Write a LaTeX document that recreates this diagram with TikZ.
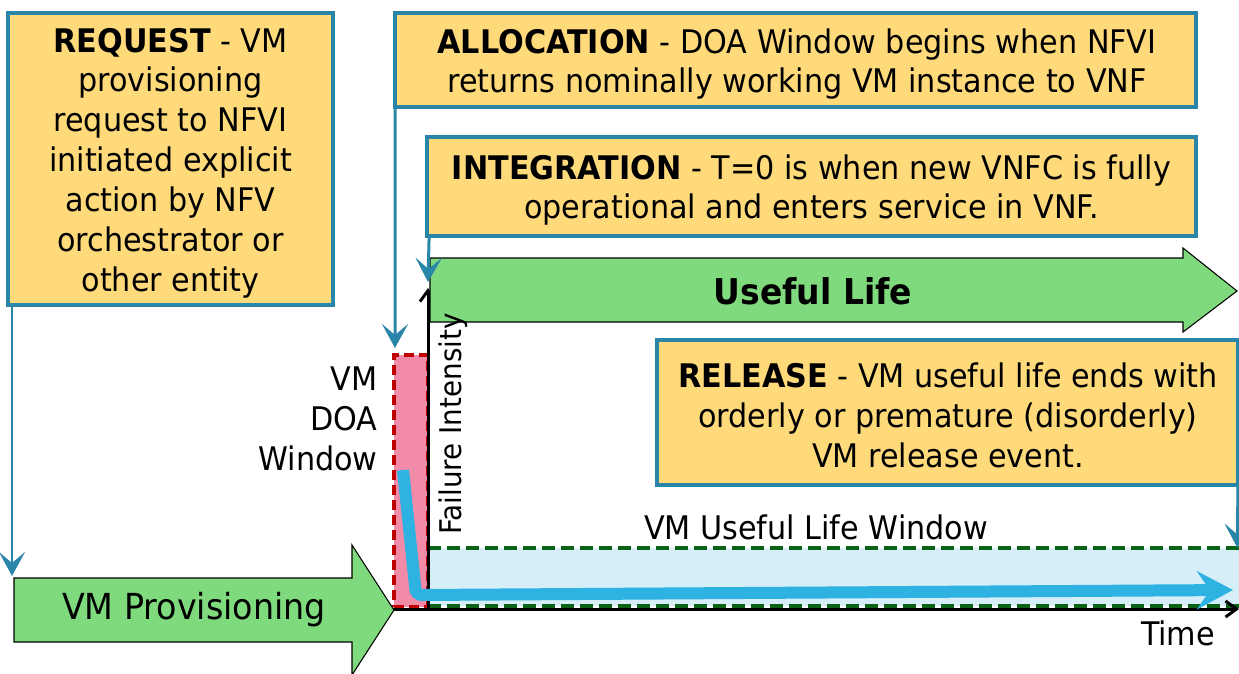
\documentclass[tikz,border=0pt]{standalone}
\usepackage{fontspec}
\setmainfont{DejaVu Sans}[FakeStretch=0.93]
\usetikzlibrary{arrows.meta,positioning}

\definecolor{boxfill}{HTML}{FFDA7B}
\definecolor{boxline}{HTML}{2A86A8}
\definecolor{arrowgreen}{HTML}{7FDA7E}
\definecolor{doapink}{HTML}{F28BA8}
\definecolor{doared}{HTML}{C00000}
\definecolor{lifeblue}{HTML}{D6EEF8}
\definecolor{lifegreen}{HTML}{0B6115}
\definecolor{curveblue}{HTML}{2DB2E2}

\newcommand{\lblfont}{\fontsize{18.5}{22.7}\selectfont}

\tikzset{
  phase/.style={draw=boxline, fill=boxfill, line width=0.08cm, inner sep=0pt},
  phasetext/.style={align=center, inner sep=0pt, font=\lblfont},
  conn/.style={draw=boxline, line width=0.06cm, -{Stealth[length=0.48cm,width=0.52cm,inset=0.22cm]}},
  blockarrow/.style={draw=black, fill=arrowgreen, line width=0.6pt},
  axis/.style={draw=black, line width=0.06cm, -{Straight Barb[length=0.22cm,width=0.32cm]}},
  plain/.style={font=\lblfont, inner sep=0pt},
}

\begin{document}
\begin{tikzpicture}[x=0.02cm, y=-0.02cm]
    \useasboundingbox (0,0) rectangle (1239,673);

    % DOA window and useful life window
    \node[fill=doapink, draw=doared, line width=0.08cm, dash pattern=on 0.2cm off 0.1cm,
          minimum width=0.68cm, minimum height=5.04cm, inner sep=0pt] (doa) at (411,481) {};
    \node[fill=lifeblue, minimum width=16.22cm, minimum height=1.16cm, inner sep=0pt] (win) at (833.5,577) {};
    \draw[lifegreen, line width=0.08cm, dash pattern=on 0.26cm off 0.12cm] (win.north west) -- (win.north east);
    \draw[lifegreen, line width=0.08cm, dash pattern=on 0.26cm off 0.12cm] (win.south west) -- (win.south east);

    % Axes
    \coordinate (origin) at (428,609);
    \coordinate (ytop) at (428,288);
    \coordinate (xend) at (1239,609);
    \draw[axis] (origin) -- (ytop);
    \draw[axis] (doa.south west |- origin) -- (xend);
    \node[plain, anchor=south] (tm) at (1178,646) {Time};

    % Failure intensity curve
    \draw[curveblue, line width=0.24cm, rounded corners=0.12cm,
          -{Stealth[length=0.72cm,width=0.76cm,inset=0.26cm]}]
        (403,470) -- (416,595) -- (1233,590);

    % Block arrows
    \draw[blockarrow] (430,258) -- (1183,258) -- (1183,248) -- (1237,291) -- (1183,332)
        -- (1183,322) -- (430,322) -- cycle;
    \node[font=\fontsize{20.2}{24}\selectfont\bfseries] (life) at (813,291) {Useful Life};
    \draw[blockarrow] (14,578) -- (352,578) -- (352,545) -- (394,610) -- (352,675)
        -- (352,642) -- (14,642) -- cycle;
    \node[font=\fontsize{20.4}{24}\selectfont] (prov) at (194,610) {VM Provisioning};

    % Axis label, drawn over the useful life arrow
    \node[font=\fontsize{17}{21}\selectfont, inner sep=0pt, rotate=90] (fi) at (453,424) {Failure Intensity};

    % Window labels
    \node[plain, align=right, anchor=east] (doalbl) at (378,419) {VM\\DOA\\Window};
    \node[plain] (winlbl) at (816,527) {VM Useful Life Window};

    % Phase boxes
    \node[phase, minimum width=6.5cm, minimum height=5.84cm] (req) at (170.5,159) {};
    \node[phasetext] (reqtxt) at (170.5,163)
        {\textbf{REQUEST} - VM\\provisioning\\request to NFVI\\initiated explicit\\action by NFV\\orchestrator or\\other entity};
    \node[phase, minimum width=16.02cm, minimum height=1.88cm] (alloc) at (795.5,60) {};
    \node[phasetext] (alloctxt) at (797,64)
        {\textbf{ALLOCATION} - DOA Window begins when NFVI\\returns nominally working VM instance to VNF};
    \node[phase, minimum width=15.38cm, minimum height=1.98cm] (integ) at (811.5,186.5) {};
    \node[phasetext] (integtxt) at (811.5,190)
        {\textbf{INTEGRATION} - T=0 is when new VNFC is fully\\operational and enters service in VNF.};
    \node[phase, minimum width=11.62cm, minimum height=2.9cm] (rel) at (947.5,412.5) {};
    \node[phasetext] (reltxt) at (948,415)
        {\textbf{RELEASE} - VM useful life ends with\\orderly or premature (disorderly)\\VM release event.};

    % Connectors
    \coordinate (provtop) at (12,576);
    \draw[conn] (req.south west -| provtop) -- (provtop);
    \draw[conn] ([xshift=0.04cm]alloc.south west) -- ([xshift=0.06cm,yshift=0.1cm]doa.north west);
    \draw[conn] ([xshift=0.08cm]integ.south west) -- ([yshift=0.12cm]ytop);
    \draw[conn] ([xshift=-0.04cm]rel.south east) -- ([xshift=-0.04cm]win.north east);
\end{tikzpicture}
\end{document}
